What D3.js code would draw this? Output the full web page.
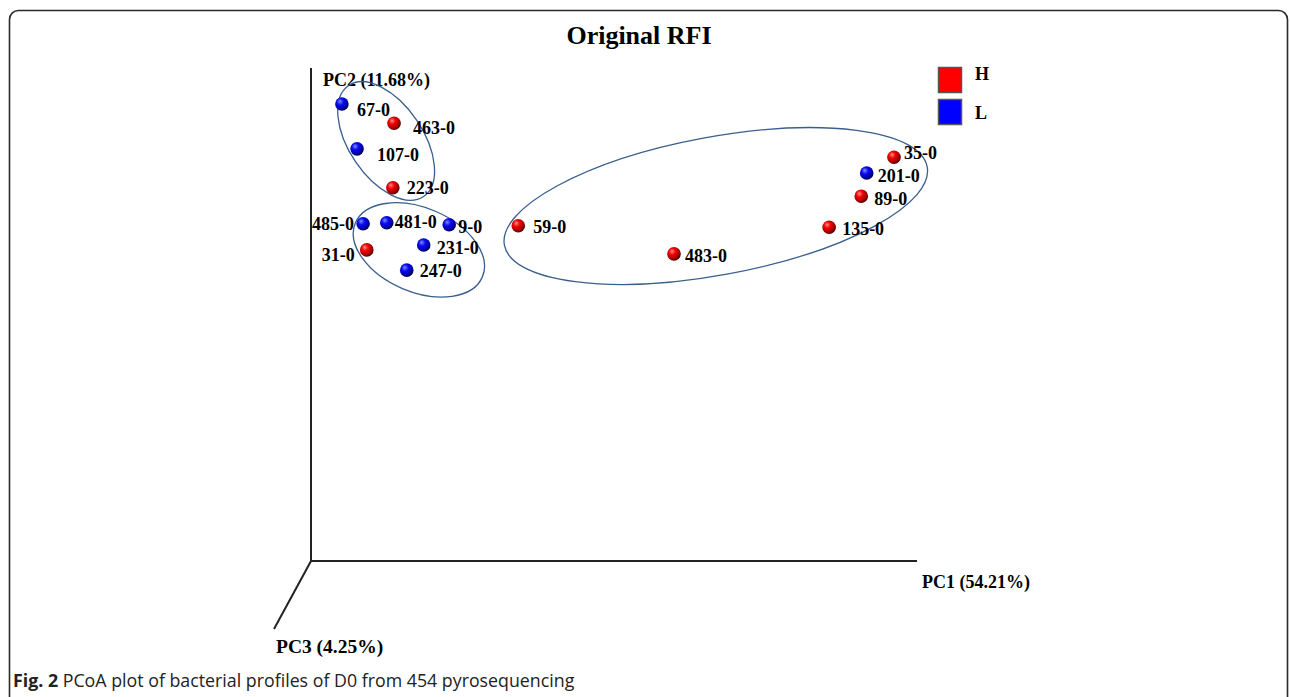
<!DOCTYPE html>
<html>
<head>
<meta charset="utf-8">
<script src="https://cdn.jsdelivr.net/npm/d3@7"></script>
<style>
  html, body { margin: 0; padding: 0; background: #fff; }
  svg { display: block; }
</style>
</head>
<body>
<svg id="chart" width="1290" height="697"></svg>
<script>
// PCoA scores (axis units) for each sample, D0
const samples = ["67-0", "463-0", "107-0", "223-0", "485-0", "481-0", "9-0", "231-0",
                 "31-0", "247-0", "59-0", "483-0", "135-0", "89-0", "201-0", "35-0"];
const groups  = ["L", "H", "L", "H", "L", "L", "L", "L",
                 "H", "L", "H", "H", "H", "H", "L", "H"];
const pc1 = [5.1, 13.7, 7.6, 13.5, 8.6, 12.5, 22.8, 18.6,
             9.2, 15.8, 34.2, 59.9, 85.5, 90.8, 91.7, 96.2];
const pc2 = [92.7, 88.8, 83.6, 75.7, 68.4, 68.6, 68.2, 64.1,
             63.1, 59.0, 68.0, 62.3, 67.7, 74.0, 78.7, 81.9];

// Cluster outlines: centres in axis units
const clusterPc1 = [12.4, 17.8, 66.8];
const clusterPc2 = [85.2, 63.1, 72.0];

const legendKeys = ["H", "L"];
const axisTitles = ["PC1 (54.21%)", "PC2 (11.68%)", "PC3 (4.25%)"];

const svg = d3.select("#chart");

// Frame around the figure
svg.append("rect")
  .attr("x", 9.5).attr("y", 10.5)
  .attr("width", 1278).attr("height", 720)
  .attr("rx", 9).attr("ry", 9)
  .attr("fill", "none").attr("stroke", "#2a2a2a").attr("stroke-width", 1.6);

const x = d3.scaleLinear().domain([0, 100]).range([311, 917]);
const y = d3.scaleLinear().domain([0, 100]).range([561, 68]);

const color = d3.scaleOrdinal().domain(legendKeys).range(["#ff0000", "#0000ff"]);

// Sphere shading for the points
const defs = svg.append("defs");
const shades = { H: ["#ff8a8a", "#f00000", "#a00000", "#4a0000"], L: ["#7f8cff", "#0a0af0", "#0000a6", "#000040"] };
legendKeys.forEach(k => {
  const g = defs.append("radialGradient").attr("id", "ball" + k)
    .attr("cx", "40%").attr("cy", "38%").attr("r", "62%").attr("fx", "35%").attr("fy", "30%");
  g.append("stop").attr("offset", "0%").attr("stop-color", shades[k][0]);
  g.append("stop").attr("offset", "40%").attr("stop-color", shades[k][1]);
  g.append("stop").attr("offset", "82%").attr("stop-color", shades[k][2]);
  g.append("stop").attr("offset", "100%").attr("stop-color", shades[k][3]);
});

const serif = "'Liberation Serif', 'Times New Roman', serif";

// Title
svg.append("text")
  .attr("x", 639).attr("y", 44)
  .attr("text-anchor", "middle")
  .attr("font-family", serif)
  .attr("font-weight", "bold").attr("font-size", 26)
  .attr("fill", "#000")
  .text("Original RFI");

// Axes: PC1 horizontal, PC2 vertical, PC3 receding diagonal
const axes = svg.append("g").attr("stroke", "#222").attr("stroke-width", 2).attr("fill", "none");
axes.append("line").attr("x1", x(0)).attr("y1", y(0)).attr("x2", x(100)).attr("y2", y(0));
axes.append("line").attr("x1", x(0)).attr("y1", y(0)).attr("x2", x(0)).attr("y2", y(100));
axes.append("line").attr("x1", x(0)).attr("y1", y(0)).attr("x2", x(0) - 37).attr("y2", y(0) + 68);

const titleSpots = [[922, 588, 18], [323, 86, 18], [276, 653, 19.5]];
axisTitles.forEach((t, i) => {
  svg.append("text")
    .attr("x", titleSpots[i][0]).attr("y", titleSpots[i][1])
    .attr("font-family", serif).attr("font-weight", "bold").attr("font-size", titleSpots[i][2])
    .attr("fill", "#000")
    .text(t);
});

// Cluster ellipses (semi-axes and tilt in pixels)
const ellipseShape = [[67, 37, 56], [69, 42, 23], [215, 69, -10.5]];
svg.append("g").selectAll("ellipse")
  .data(clusterPc1.map((c, i) => ({ c1: c, c2: clusterPc2[i], s: ellipseShape[i] })))
  .join("ellipse")
  .attr("cx", 0).attr("cy", 0)
  .attr("rx", d => d.s[0]).attr("ry", d => d.s[1])
  .attr("transform", d => `translate(${x(d.c1)},${y(d.c2)}) rotate(${d.s[2]})`)
  .attr("fill", "none").attr("stroke", "#3a5f8c").attr("stroke-width", 1.3);

// Sample points
const data = samples.map((s, i) => ({ id: s, g: groups[i], a: pc1[i], b: pc2[i] }));

svg.append("g").selectAll("circle")
  .data(data).join("circle")
  .attr("cx", d => x(d.a)).attr("cy", d => y(d.b)).attr("r", 6.8)
  .attr("fill", d => `url(#ball${d.g})`);

// Label placement next to each sphere (negative dx: label sits on the left)
const nudge = {
  "67-0": [15, 6], "463-0": [19, 5], "107-0": [20, 6], "223-0": [14, 0],
  "485-0": [-9, 0], "481-0": [8, -1], "9-0": [9, 2], "231-0": [13, 3],
  "31-0": [-12, 5], "247-0": [13, 1], "59-0": [15, 1], "483-0": [11, 2],
  "135-0": [13, 2], "89-0": [13, 3], "201-0": [11, 3], "35-0": [10, -4]
};

svg.append("g").selectAll("text")
  .data(data).join("text")
  .attr("x", d => x(d.a) + nudge[d.id][0])
  .attr("y", d => y(d.b) + nudge[d.id][1] + 6)
  .attr("text-anchor", d => nudge[d.id][0] < 0 ? "end" : "start")
  .attr("font-family", serif).attr("font-weight", "bold").attr("font-size", 18)
  .attr("fill", "#000")
  .text(d => d.id);

// Legend
const legend = svg.append("g");
legendKeys.forEach((k, i) => {
  legend.append("rect")
    .attr("x", 938.5).attr("y", 67.5 + i * 32)
    .attr("width", 23).attr("height", 25)
    .attr("fill", color(k)).attr("stroke", "#555").attr("stroke-width", 1.5);
  legend.append("text")
    .attr("x", 975).attr("y", 80 + i * 39)
    .attr("font-family", serif).attr("font-weight", "bold").attr("font-size", 18)
    .attr("fill", "#000")
    .text(k);
});

// Figure caption
const cap = svg.append("text")
  .attr("x", 13).attr("y", 687)
  .attr("font-family", "'Open Sans', 'Noto Sans', sans-serif").attr("font-size", 17.8)
  .attr("fill", "#222");
cap.append("tspan").attr("font-weight", "bold").text("Fig. 2");
cap.append("tspan").text(" PCoA plot of bacterial profiles of D0 from 454 pyrosequencing");
</script>
</body>
</html>
